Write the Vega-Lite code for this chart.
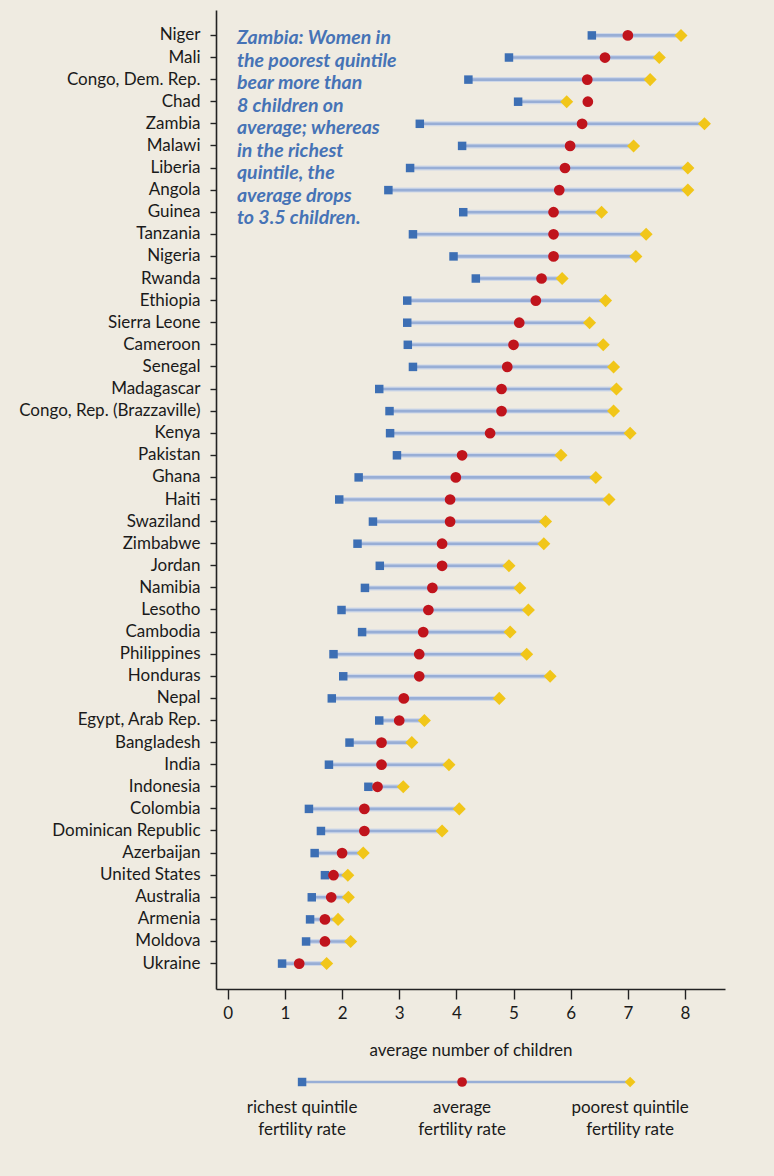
{
  "$schema": "https://vega.github.io/schema/vega-lite/v6.json",
  "background": "#efebe1",
  "padding": {"left": 18, "top": 10, "right": 49, "bottom": 40},
  "bounds": "flush",
  "spacing": 83,
  "config": {
    "view": {"stroke": null},
    "font": "Lato",
    "axis": {"grid": false, "domainColor": "#222222", "tickColor": "#222222", "domainWidth": 1.6, "tickWidth": 1.4, "labelColor": "#1a1a1a", "titleColor": "#1a1a1a", "labelFont": "Lato", "titleFont": "Lato", "labelFontSize": 17, "titleFontSize": 17, "titleFontWeight": "normal"}
  },
  "datasets": {
    "fert": [
      {"country": "Niger", "richest": 6.37, "average": 7.00, "poorest": 7.93},
      {"country": "Mali", "richest": 4.92, "average": 6.60, "poorest": 7.55},
      {"country": "Congo, Dem. Rep.", "richest": 4.21, "average": 6.29, "poorest": 7.39},
      {"country": "Chad", "richest": 5.08, "average": 6.30, "poorest": 5.93},
      {"country": "Zambia", "richest": 3.36, "average": 6.20, "poorest": 8.34},
      {"country": "Malawi", "richest": 4.10, "average": 5.99, "poorest": 7.10},
      {"country": "Liberia", "richest": 3.19, "average": 5.90, "poorest": 8.05},
      {"country": "Angola", "richest": 2.81, "average": 5.80, "poorest": 8.05},
      {"country": "Guinea", "richest": 4.12, "average": 5.70, "poorest": 6.54},
      {"country": "Tanzania", "richest": 3.24, "average": 5.70, "poorest": 7.32},
      {"country": "Nigeria", "richest": 3.95, "average": 5.70, "poorest": 7.14},
      {"country": "Rwanda", "richest": 4.34, "average": 5.49, "poorest": 5.85},
      {"country": "Ethiopia", "richest": 3.14, "average": 5.39, "poorest": 6.61},
      {"country": "Sierra Leone", "richest": 3.14, "average": 5.10, "poorest": 6.33},
      {"country": "Cameroon", "richest": 3.15, "average": 5.00, "poorest": 6.57},
      {"country": "Senegal", "richest": 3.24, "average": 4.89, "poorest": 6.75},
      {"country": "Madagascar", "richest": 2.65, "average": 4.79, "poorest": 6.80},
      {"country": "Congo, Rep. (Brazzaville)", "richest": 2.83, "average": 4.79, "poorest": 6.75},
      {"country": "Kenya", "richest": 2.84, "average": 4.59, "poorest": 7.04},
      {"country": "Pakistan", "richest": 2.96, "average": 4.10, "poorest": 5.83},
      {"country": "Ghana", "richest": 2.29, "average": 3.99, "poorest": 6.44},
      {"country": "Haiti", "richest": 1.95, "average": 3.89, "poorest": 6.67},
      {"country": "Swaziland", "richest": 2.54, "average": 3.89, "poorest": 5.56},
      {"country": "Zimbabwe", "richest": 2.27, "average": 3.75, "poorest": 5.53},
      {"country": "Jordan", "richest": 2.66, "average": 3.75, "poorest": 4.92},
      {"country": "Namibia", "richest": 2.40, "average": 3.58, "poorest": 5.11},
      {"country": "Lesotho", "richest": 1.99, "average": 3.51, "poorest": 5.26},
      {"country": "Cambodia", "richest": 2.35, "average": 3.42, "poorest": 4.94},
      {"country": "Philippines", "richest": 1.85, "average": 3.35, "poorest": 5.23},
      {"country": "Honduras", "richest": 2.02, "average": 3.35, "poorest": 5.64},
      {"country": "Nepal", "richest": 1.82, "average": 3.08, "poorest": 4.75},
      {"country": "Egypt, Arab Rep.", "richest": 2.65, "average": 3.00, "poorest": 3.44},
      {"country": "Bangladesh", "richest": 2.13, "average": 2.69, "poorest": 3.22},
      {"country": "India", "richest": 1.77, "average": 2.69, "poorest": 3.87},
      {"country": "Indonesia", "richest": 2.46, "average": 2.62, "poorest": 3.07},
      {"country": "Colombia", "richest": 1.42, "average": 2.39, "poorest": 4.05},
      {"country": "Dominican Republic", "richest": 1.63, "average": 2.39, "poorest": 3.75},
      {"country": "Azerbaijan", "richest": 1.52, "average": 2.00, "poorest": 2.37},
      {"country": "United States", "richest": 1.70, "average": 1.85, "poorest": 2.10},
      {"country": "Australia", "richest": 1.47, "average": 1.81, "poorest": 2.11},
      {"country": "Armenia", "richest": 1.44, "average": 1.70, "poorest": 1.93},
      {"country": "Moldova", "richest": 1.37, "average": 1.70, "poorest": 2.15},
      {"country": "Ukraine", "richest": 0.95, "average": 1.25, "poorest": 1.73}
    ],
    "note": [
      {"text": ["Zambia: Women in", "the poorest quintile", "bear more than", "8 children on", "average; whereas", "in the richest", "quintile, the", "average drops", "to 3.5 children."]}
    ],
    "legend": [
      {"kind": "richest", "pos": 1.30, "label": ["richest quintile", "fertility rate"]},
      {"kind": "average", "pos": 4.10, "label": ["average", "fertility rate"]},
      {"kind": "poorest", "pos": 7.04, "label": ["poorest quintile", "fertility rate"]}
    ],
    "legendline": [
      {"from": 1.30, "to": 7.04}
    ]
  },
  "vconcat": [
    {
      "width": 509,
      "height": 979,
      "data": {"name": "fert"},
      "encoding": {
        "y": {
          "field": "country", "type": "nominal", "sort": null,
          "scale": {"type": "band", "paddingInner": 0, "paddingOuter": 0.65},
          "axis": {"title": null, "tickSize": 6, "labelPadding": 10, "labelLimit": 400, "domain": true, "ticks": true}
        }
      },
      "layer": [
        {
          "mark": {"type": "rule", "color": "#cfd8e8", "strokeWidth": 5},
          "encoding": {
            "x": {"field": "richest", "type": "quantitative", "scale": {"domain": [-0.206, 8.7], "nice": false, "zero": false},
              "axis": {"title": "average number of children", "values": [0, 1, 2, 3, 4, 5, 6, 7, 8], "format": "d", "tickSize": 10, "labelPadding": 6, "titlePadding": 21}},
            "x2": {"field": "poorest"}
          }
        },
        {
          "mark": {"type": "rule", "color": "#98aed6", "strokeWidth": 2.6},
          "encoding": {
            "x": {"field": "richest", "type": "quantitative", "title": "average number of children"},
            "x2": {"field": "poorest"}
          }
        },
        {
          "mark": {"type": "point", "shape": "square", "filled": true, "color": "#3d6fb4", "opacity": 1, "size": 72},
          "encoding": {"x": {"field": "richest", "type": "quantitative", "title": "average number of children"}}
        },
        {
          "mark": {"type": "point", "shape": "diamond", "filled": true, "color": "#f1c619", "opacity": 1, "size": 170},
          "encoding": {"x": {"field": "poorest", "type": "quantitative", "title": "average number of children"}}
        },
        {
          "mark": {"type": "point", "shape": "circle", "filled": true, "color": "#c0141c", "opacity": 1, "size": 115},
          "encoding": {"x": {"field": "average", "type": "quantitative", "title": "average number of children"}}
        },
        {
          "data": {"name": "note"},
          "mark": {"type": "text", "align": "left", "baseline": "top", "dy": -6, "font": "Lato", "fontSize": 19.5, "fontWeight": "bold", "fontStyle": "italic", "color": "#4673b6", "lineHeight": 22.5},
          "encoding": {
            "x": {"datum": 0.16, "type": "quantitative"},
            "y": {"datum": "Niger", "type": "nominal"},
            "text": {"field": "text"}
          }
        }
      ]
    },
    {
      "width": 509,
      "height": 20,
      "layer": [
        {
          "data": {"name": "legendline"},
          "mark": {"type": "rule", "color": "#98aed6", "strokeWidth": 2.6},
          "encoding": {
            "x": {"field": "from", "type": "quantitative", "scale": {"domain": [-0.206, 8.7], "nice": false, "zero": false}, "axis": null},
            "x2": {"field": "to"}
          }
        },
        {
          "data": {"name": "legend"},
          "mark": {"type": "point", "filled": true, "opacity": 1},
          "encoding": {
            "x": {"field": "pos", "type": "quantitative", "axis": null},
            "shape": {"field": "kind", "type": "nominal", "scale": {"domain": ["richest", "average", "poorest"], "range": ["square", "circle", "diamond"]}, "legend": null},
            "color": {"field": "kind", "type": "nominal", "scale": {"domain": ["richest", "average", "poorest"], "range": ["#3d6fb4", "#c0141c", "#f1c619"]}, "legend": null},
            "size": {"field": "kind", "type": "nominal", "scale": {"domain": ["richest", "average", "poorest"], "range": [72, 115, 170]}, "legend": null}
          }
        },
        {
          "data": {"name": "legend"},
          "mark": {"type": "text", "align": "center", "baseline": "top", "dy": 18, "fontSize": 17, "color": "#1a1a1a", "lineHeight": 22},
          "encoding": {
            "x": {"field": "pos", "type": "quantitative", "axis": null},
            "text": {"field": "label"}
          }
        }
      ]
    }
  ]
}
